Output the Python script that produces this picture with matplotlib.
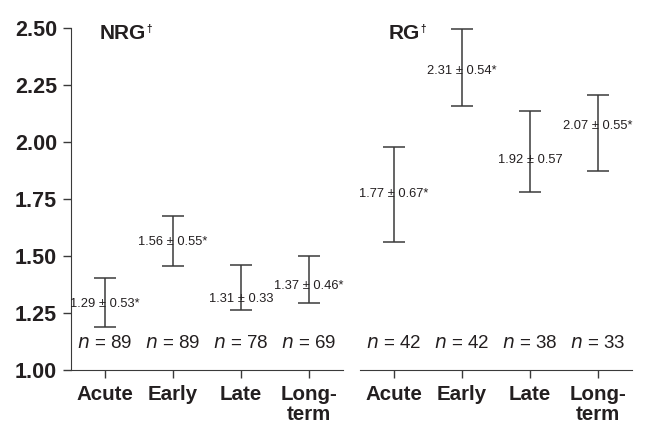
import numpy as np
import matplotlib.pyplot as plt

plt.rcParams['font.family'] = ['Liberation Sans', 'DejaVu Sans']

periods = ['Acute', 'Early', 'Late', 'Long-\nterm']

# NRG group
nrg_mean = [1.29, 1.56, 1.31, 1.37]
nrg_sd = [0.53, 0.55, 0.33, 0.46]
nrg_sig = ['*', '*', '', '*']
nrg_low = [1.19, 1.455, 1.262, 1.294]
nrg_high = [1.405, 1.675, 1.46, 1.50]
nrg_n = [89, 89, 78, 69]

# RG group
rg_mean = [1.77, 2.31, 1.92, 2.07]
rg_sd = [0.67, 0.54, 0.57, 0.55]
rg_sig = ['*', '*', '', '*']
rg_low = [1.563, 2.159, 1.779, 1.874]
rg_high = [1.98, 2.496, 2.136, 2.206]
rg_n = [42, 42, 38, 33]

txt = '#231f20'
lc = '#3a3a3a'

fig = plt.figure(figsize=(6.54, 4.23), dpi=100)
axL = fig.add_axes([0.1086, 0.1253, 0.416, 0.8085])
axR = fig.add_axes([0.5505, 0.1253, 0.416, 0.8085])


def panel(ax, title, mean, sd, sig, low, high, n):
    x = np.arange(len(mean))
    mean = np.array(mean)
    yerr = [mean - np.array(low), np.array(high) - mean]
    ax.errorbar(x, mean, yerr=yerr, fmt='none', ecolor=lc, elinewidth=1.1,
                capsize=8, capthick=1.1)
    for i in range(len(mean)):
        ax.text(x[i], mean[i], '%.2f \u00b1 %.2f%s' % (mean[i], sd[i], sig[i]),
                ha='center', va='center', fontsize=9.3, color=txt)
        ax.text(x[i], 1.117, '$n$ = %d' % n[i], ha='center', va='center',
                fontsize=13.5, color=txt)
    ax.set_xlim(-0.5, 3.5)
    ax.set_ylim(1.0, 2.5)
    ax.set_xticks(x)
    ax.set_xticklabels(periods, fontsize=14.8, fontweight='bold', color=txt,
                       linespacing=1.05)
    ax.tick_params(axis='x', length=6, width=1, color=lc, pad=5)
    for s in ['top', 'right']:
        ax.spines[s].set_visible(False)
    ax.spines['bottom'].set_color(lc)
    ax.spines['left'].set_color(lc)
    t = ax.text(0.105, 0.985, title, transform=ax.transAxes, ha='left',
                va='center', fontsize=15, fontweight='bold', color=txt)
    ax.annotate('\u2020', xy=(1, 1), xycoords=t, xytext=(0.3, 0),
                textcoords='offset points', ha='left', va='top',
                fontsize=7, fontweight='bold', color=txt)


panel(axL, 'NRG', nrg_mean, nrg_sd, nrg_sig, nrg_low, nrg_high, nrg_n)
panel(axR, 'RG', rg_mean, rg_sd, rg_sig, rg_low, rg_high, rg_n)

axL.set_yticks([1.0, 1.25, 1.5, 1.75, 2.0, 2.25, 2.5])
axL.set_yticklabels(['1.00', '1.25', '1.50', '1.75', '2.00', '2.25', '2.50'],
                    fontsize=15.5, fontweight='bold', color=txt)
axL.tick_params(axis='y', length=6, width=1, color=lc, pad=4)

axR.spines['left'].set_visible(False)
axR.set_yticks([])

fig.savefig('out.png', dpi=100)
